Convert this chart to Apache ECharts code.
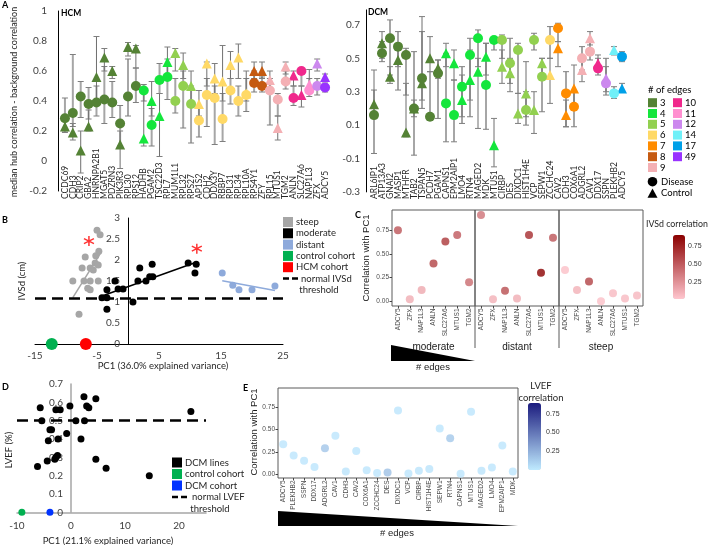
<!DOCTYPE html>
<html>
<head>
<meta charset="utf-8">
<script src="https://cdn.jsdelivr.net/npm/echarts@6/dist/echarts.min.js"></script>
<style>
html, body { margin: 0; padding: 0; background: #fff; }
#chart { width: 710px; height: 545px; }
</style>
</head>
<body>
<div id="chart"></div>
<script>
// colours by number of edges
const edgeColors = {3: '#548235', 4: '#14e63c', 5: '#92d050', 6: '#ffd966', 7: '#ff8c00', 8: '#c55a11', 9: '#f4b0b4',
  10: '#f0288c', 11: '#ff8fd0', 12: '#cc88ee', 14: '#70f0f8', 17: '#00a0e8', 49: '#9933ff'};
const legendCol1 = [3, 4, 5, 6, 7, 8, 9];
const legendCol2 = [10, 11, 12, 14, 17, 49];

// A - HCM
const hcmCats = ['CCDC69','CDH3','CRIP2','GBA2','HNRNPA2B1','MGAT5','PDZRN3','PIK3R3','RPL30','RPS12','HADHB','PGAM2','TSC22D3','RPL7','MUM1L1','RPL32','RPS27','AP1S2','CDH2','DDX3Y','RBBP7','RPL31','RPL34','RPL10A','RPS4Y1','ZFY','RPL15','MTUS1','TGM2','ANLN','SLC27A6','NAP1L3','ZFX','ADCY5'];
const hcmEdges = [3,3,3,3,3,3,3,3,3,3,4,4,4,4,5,5,5,6,6,6,6,6,6,6,8,8,9,9,9,10,10,11,12,49];
const hcmDis = [0.285,0.32,0.43,0.38,0.39,0.41,0.39,0.25,0.43,0.50,0.47,0.24,0.54,0.56,0.40,0.50,0.38,0.27,0.44,0.42,0.28,0.47,0.40,0.44,0.52,0.50,0.47,0.41,0.53,0.42,0.60,0.47,0.50,0.49];
const hcmDisLo = [0.20,0.23,0.29,0.28,0.30,0.25,0.29,0.10,0.30,0.39,0.40,0.10,0.45,0.41,0.32,0.22,0.12,0.16,0.23,0.11,0.13,0.38,0.30,0.33,0.46,0.46,0.24,0.30,0.48,0.37,0.50,0.43,0.44,0.46];
const hcmDisHi = [0.42,0.71,0.53,0.49,0.50,0.63,0.53,0.37,0.68,0.62,0.51,0.35,0.65,0.68,0.55,0.60,0.50,0.36,0.55,0.50,0.45,0.55,0.50,0.55,0.60,0.56,0.55,0.45,0.60,0.50,0.62,0.55,0.55,0.52];
const hcmCtl = [0.23,0.19,0.07,0.23,0.56,0.69,0.60,0.11,0.76,0.75,0.15,0.40,0.30,0.66,0.72,0.64,0.50,0.38,0.65,0.55,0.53,0.64,0.69,0.45,0.60,0.60,0.54,0.22,0.63,0.57,0.44,0.51,0.65,0.56];
const hcmCtlLo = [0.19,0.14,-0.08,0.20,0.40,0.60,0.55,-0.05,0.70,0.62,0.10,0.30,0.03,0.55,0.60,0.55,0.40,0.30,0.50,0.45,0.40,0.55,0.55,0.40,0.55,0.55,0.45,0.14,0.58,0.50,0.36,0.45,0.60,0.53];
const hcmCtlHi = [0.27,0.25,0.20,0.34,0.83,0.75,0.63,0.20,0.79,0.77,0.47,0.53,0.45,0.76,0.75,0.72,0.60,0.47,0.66,0.65,0.77,0.73,0.78,0.60,0.66,0.66,0.60,0.30,0.66,0.60,0.50,0.61,0.68,0.58];
const hcmTicks = [-0.2, 0, 0.2, 0.4, 0.6, 0.8, 1];

// A - DCM
const dcmCats = ['ARL6IP1','ATP13A3','GNAI2','MASP1','MTHFR','TAB2','TSPAN5','PCDH7','PGAM1','CAPNS1','EPM2AIP1','LMO4','RTN4','MAGED2','MDK','MTUS1','CIRBP','DES','DIXDC1','HIST1H4E','VCP','SEPW1','ZCCHC24','CAV2','CDH3','COX6A1','ADGRL2','CAV1','DDX17','SSPN','PLEKHB2','ADCY5'];
const dcmEdges = [3,3,3,3,3,3,3,3,3,4,4,4,4,4,4,4,5,5,5,5,5,5,6,7,7,7,9,9,10,12,14,17];
const dcmDis = [0.16,0.53,0.62,0.57,0.52,0.20,0.38,0.15,0.41,0.23,0.16,0.33,0.52,0.62,0.34,0.61,0.61,0.47,0.55,0.19,0.61,0.39,0.61,0.68,0.29,0.21,0.50,0.54,0.44,0.35,0.29,0.51];
const dcmDisLo = [-0.07,0.48,0.40,0.31,0.28,-0.08,0.20,0.14,0.14,0.00,0.00,0.11,0.15,0.45,0.075,0.55,0.50,0.35,0.29,0.10,0.55,0.18,0.50,0.60,0.09,0.09,0.43,0.49,0.40,0.28,0.26,0.48];
const dcmDisHi = [0.31,0.60,0.73,0.66,0.56,0.54,0.66,0.42,0.49,0.53,0.37,0.45,0.62,0.67,0.59,0.63,0.64,0.62,0.59,0.30,0.65,0.50,0.69,0.71,0.42,0.30,0.57,0.60,0.50,0.50,0.33,0.54];
const dcmCtl = [0.225,0.59,0.39,0.49,0.055,0.20,0.35,0.50,0.44,0.53,0.47,0.25,0.37,0.42,0.51,-0.02,0.45,0.41,0.17,0.29,0.19,0.47,0.40,0.56,0.16,0.32,0.43,0.62,0.47,0.38,0.55,0.32];
const dcmCtlLo = [0.15,0.50,0.35,0.45,0.03,0.15,0.25,0.42,0.38,0.45,0.37,0.15,0.25,0.08,0.40,-0.15,0.35,0.30,0.11,0.15,0.05,0.40,0.23,0.45,0.09,0.20,0.36,0.58,0.42,0.30,0.52,0.30];
const dcmCtlHi = [0.43,0.66,0.45,0.55,0.35,0.25,0.75,0.63,0.49,0.59,0.55,0.40,0.55,0.50,0.59,0.14,0.55,0.50,0.29,0.48,0.30,0.50,0.50,0.60,0.25,0.46,0.48,0.66,0.52,0.45,0.57,0.35];
const dcmTicks = [-0.3, -0.1, 0.1, 0.3, 0.5, 0.7];

// B - IVSd vs PC1
const steepPts = [[-5.0,2.71],[-4.5,2.6],[-4.7,2.21],[-5.2,2.1],[-6.9,2.07],[-5.3,1.93],[-6.1,1.81],[-7.4,1.81],[-4.8,1.88],[-5.6,1.76],[-8.9,1.5],[-7.1,1.5],[-6.1,1.5],[-4.8,1.5],[-6.5,1.33],[-6.1,1.29],[-7.9,0.71]];
const moderatePts = [[-4.2,1.1],[-3.4,1.1],[-3.4,1.29],[-3.4,0.83],[-2.1,1.5],[-1.6,1.31],[-0.8,1.31],[0.8,1.0],[1.9,1.81],[1.6,1.5],[2.9,1.5],[3.5,1.6],[4.0,1.6],[3.9,1.9],[9.7,1.93],[11.0,1.9],[10.8,1.69]];
const distantPts = [[15.2,1.69],[16.9,1.4],[17.9,1.29],[20.0,1.29],[23.7,1.38]];
const hcmControl = [[-12.3, 0]];
const hcmCohort = [[-6.8, 0]];
const starPts = [[-6.3, 2.45], [11.1, 2.27]];
const ivsdThreshold = 1.08;
const bXTicks = [-15, -5, 5, 15, 25];

// D - LVEF vs PC1
const lvefPts = [[-5.7,0.57],[-2.8,0.56],[-2.0,0.56],[-0.2,0.58],[2.4,0.63],[2.9,0.58],[3.3,0.57],[4.6,0.62],[22.2,0.55],[-5.4,0.5],[0.9,0.5],[2.5,0.5],[-3.6,0.45],[-3.9,0.45],[-4.2,0.39],[-2.4,0.4],[-0.8,0.43],[1.85,0.4],[-2.5,0.31],[-2.8,0.3],[-3.0,0.29],[-4.4,0.28],[-6.2,0.25],[4.6,0.29],[6.5,0.24],[14.5,0.2]];
const dcmControl = [[-9.1, 0]];
const dcmCohort = [[-3.9, 0]];
const lvefThreshold = 0.5;
const dXTicks = [-10, 0, 10, 20];

// C - correlation with PC1 per group
const cCats = ['ADCY5','ZFX','NAP1L3','ANLN','SLC27A6','MTUS1','TGM2'];
const cGroups = ['moderate', 'distant', 'steep'];
const cCorr = [
  [0.75, 0.02, 0.12, 0.40, 0.63, 0.70, 0.20],
  [0.91, 0.02, 0.11, 0.03, 0.70, 0.30, 0.67],
  [0.33, 0.12, 0.21, 0.00, 0.085, 0.03, 0.06]
];
const cIvsd = [
  [0.52, 0.12, 0.14, 0.60, 0.65, 0.50, 0.42],
  [0.38, 0.10, 0.55, 0.12, 0.70, 0.90, 0.52],
  [0.03, 0.10, 0.60, 0.03, 0.06, 0.06, 0.07]
];
const corrTicks = [0, 0.25, 0.5, 0.75];

// E - DCM correlation with PC1
const eCats = ['ADCY5','PLEKHB2','SSPN','DDX17','ADGRL2','CAV1','CDH3','CAV2','COX6A1','ZCCHC24','DES','DIXDC1','VCP','CIRBP','HIST1H4E','SEPW1','RTN4','CAPNS1','MTUS1','MAGED2','LMO4','EPM2AIP1','MDK'];
const eCorr = [0.335,0.21,0.15,0.08,0.29,0.43,0.03,0.26,0.045,0.015,0.02,0.71,0.01,0.04,0.06,0.51,0.40,0.005,0.695,0.04,0.075,0.32,0.03];
const eLvef = [0.02,0.02,0.02,0.02,0.16,0.02,0.03,0.02,0.02,0.02,0.18,0.02,0.02,0.03,0.03,0.02,0.15,0.02,0.02,0.03,0.02,0.02,0.02];
const legendTicks = [0.25, 0.5, 0.75];

const F = 'Lato, "Open Sans", sans-serif';
const G = '"Liberation Sans", Arial, sans-serif';

// least squares line over the x range of the points
function fitLine(pts) {
  const n = pts.length;
  const mx = pts.reduce((s, p) => s + p[0], 0) / n;
  const my = pts.reduce((s, p) => s + p[1], 0) / n;
  let sxy = 0, sxx = 0;
  pts.forEach(p => { sxy += (p[0] - mx) * (p[1] - my); sxx += (p[0] - mx) * (p[0] - mx); });
  const b = sxy / sxx;
  const xs = pts.map(p => p[0]);
  const x0 = Math.min(...xs), x1 = Math.max(...xs);
  return [[x0, my + b * (x0 - mx)], [x1, my + b * (x1 - mx)]];
}

function errRender(color, width) {
  return function (params, api) {
    const i = api.value(0);
    const a = api.coord([i, api.value(1)]);
    const b = api.coord([i, api.value(2)]);
    const hw = 3;
    return {
      type: 'group',
      children: [
        {type: 'line', shape: {x1: a[0], y1: a[1], x2: b[0], y2: b[1]}, style: {stroke: color, lineWidth: width}},
        {type: 'line', shape: {x1: a[0] - hw, y1: a[1], x2: a[0] + hw, y2: a[1]}, style: {stroke: '#7f7f7f', lineWidth: 1}},
        {type: 'line', shape: {x1: b[0] - hw, y1: b[1], x2: b[0] + hw, y2: b[1]}, style: {stroke: '#7f7f7f', lineWidth: 1}}
      ]
    };
  };
}

function txt(x, y, s, o) {
  o = o || {};
  return {
    type: 'text', x: x, y: y, rotation: o.rot || 0, silent: true,
    style: {
      text: s, fill: o.color || '#000', fontSize: o.size || 9, fontFamily: o.font || F,
      fontWeight: o.weight || 'normal', align: o.align || 'left', verticalAlign: 'middle',
      textAlign: o.align || 'left', textVerticalAlign: 'middle'
    }
  };
}

const grids = [
  {left: 61, top: 11, width: 268, height: 180},
  {left: 370, top: 9.9, width: 256, height: 182},
  {left: 35, top: 218, width: 248, height: 126},
  {left: 17, top: 384, width: 189, height: 128.3},
  {left: 392, top: 210, width: 83, height: 96},
  {left: 475, top: 210, width: 84, height: 96},
  {left: 559, top: 210, width: 84, height: 96},
  {left: 278, top: 388, width: 240, height: 90}
].map((g, i) => Object.assign(g, {
  containLabel: false, outerBoundsMode: 'none',
  show: i >= 4, borderColor: '#5a5a5a', borderWidth: 1, backgroundColor: 'transparent'
}));

function catAxisA(gi, data, offset) {
  return {
    type: 'category', gridIndex: gi, data: data, boundaryGap: true, offset: offset,
    axisLine: {show: false, onZero: false}, axisTick: {show: false}, splitLine: {show: false},
    axisLabel: {interval: 0, rotate: 90, align: 'left', verticalAlign: 'middle', margin: 0,
      fontSize: 8.5, fontFamily: F, color: '#262626'}
  };
}
function catAxisG(gi, data, name) {
  return {
    type: 'category', gridIndex: gi, data: data, boundaryGap: true,
    name: name || '', nameLocation: 'middle', nameGap: 36,
    nameTextStyle: {fontSize: 10, fontFamily: G, color: '#1a1a1a'},
    axisLine: {show: false, onZero: false},
    axisTick: {show: true, length: 2.5, alignWithLabel: true, lineStyle: {color: '#444'}},
    splitLine: {show: false},
    axisLabel: {interval: 0, rotate: 90, margin: 2.5, fontSize: 6.5, fontFamily: G, color: '#4d4d4d'}
  };
}
function corrYAxis(gi, min, max, showLabels) {
  return {
    type: 'value', gridIndex: gi, min: min, max: max, show: showLabels,
    axisLine: {show: false, onZero: false}, splitLine: {show: false},
    axisTick: {show: true, length: 2.5, customValues: corrTicks, lineStyle: {color: '#444'}},
    axisLabel: {customValues: corrTicks, margin: 3, fontSize: 6.5, fontFamily: G, color: '#4d4d4d',
      formatter: v => v.toFixed(2)}
  };
}

const xAxes = [
  catAxisA(0, hcmCats, 8),
  catAxisA(1, dcmCats, 7),
  {type: 'value', gridIndex: 2, min: -15, max: 25, splitLine: {show: false}, axisTick: {show: false},
    axisLine: {onZero: false, lineStyle: {color: '#000', width: 1}},
    axisLabel: {customValues: bXTicks, margin: 7, fontSize: 10, fontFamily: F, color: '#404040'}},
  {type: 'value', gridIndex: 3, min: -10, max: 25, splitLine: {show: false}, axisTick: {show: false},
    axisLine: {onZero: false, lineStyle: {color: '#a6a6a6', width: 1.5}},
    axisLabel: {customValues: dXTicks, margin: 8, fontSize: 10, fontFamily: F, color: '#404040'}},
  catAxisG(4, cCats, cGroups[0]),
  catAxisG(5, cCats, cGroups[1]),
  catAxisG(6, cCats, cGroups[2]),
  catAxisG(7, eCats, '')
];

const yAxes = [
  {type: 'value', gridIndex: 0, min: -0.2, max: 1, offset: 3, splitLine: {show: false}, axisTick: {show: false},
    axisLine: {show: true, onZero: false, lineStyle: {color: '#000'}},
    axisLabel: {customValues: hcmTicks, margin: 11, fontSize: 10, fontFamily: F, color: '#404040'}},
  {type: 'value', gridIndex: 1, min: -0.3, max: 0.79, offset: 4, splitLine: {show: false}, axisTick: {show: false},
    axisLine: {show: true, onZero: false, lineStyle: {color: '#000'}},
    axisLabel: {customValues: dcmTicks, margin: 6, fontSize: 10, fontFamily: F, color: '#404040'}},
  {type: 'value', gridIndex: 2, min: 0, max: 3, interval: 0.5, offset: -93, splitLine: {show: false}, axisTick: {show: false},
    axisLine: {show: true, onZero: false, lineStyle: {color: '#000'}},
    axisLabel: {margin: 8, fontSize: 10, fontFamily: F, color: '#404040'}},
  {type: 'value', gridIndex: 3, min: 0, max: 0.7, interval: 0.1, offset: -54, splitLine: {show: false}, axisTick: {show: false},
    axisLine: {show: true, onZero: false, lineStyle: {color: '#a6a6a6', width: 1.5}},
    axisLabel: {margin: 8, fontSize: 10, fontFamily: F, color: '#404040'}},
  corrYAxis(4, -0.05, 0.964, true),
  corrYAxis(5, -0.05, 0.964, false),
  corrYAxis(6, -0.05, 0.964, false),
  corrYAxis(7, -0.041, 0.96, true)
];

const series = [];
function panelA(gi, cats, edges, dis, disLo, disHi, ctl, ctlLo, ctlHi) {
  series.push({type: 'custom', xAxisIndex: gi, yAxisIndex: gi, silent: true, encode: {x: 0, y: [1, 2]},
    renderItem: errRender('#a6a6a6', 2), data: cats.map((c, i) => [i, disLo[i], disHi[i]])});
  series.push({type: 'custom', xAxisIndex: gi, yAxisIndex: gi, silent: true, encode: {x: 0, y: [1, 2]},
    renderItem: errRender('#6f6f6f', 1), data: cats.map((c, i) => [i, ctlLo[i], ctlHi[i]])});
  series.push({type: 'scatter', xAxisIndex: gi, yAxisIndex: gi, symbol: 'triangle', symbolSize: 10,
    itemStyle: {color: p => edgeColors[edges[p.dataIndex]], opacity: 1},
    data: cats.map((c, i) => [i, ctl[i]])});
  series.push({type: 'scatter', xAxisIndex: gi, yAxisIndex: gi, symbol: 'circle', symbolSize: 10,
    itemStyle: {color: p => edgeColors[edges[p.dataIndex]], opacity: 1},
    data: cats.map((c, i) => [i, dis[i]])});
}
panelA(0, hcmCats, hcmEdges, hcmDis, hcmDisLo, hcmDisHi, hcmCtl, hcmCtlLo, hcmCtlHi);
panelA(1, dcmCats, dcmEdges, dcmDis, dcmDisLo, dcmDisHi, dcmCtl, dcmCtlLo, dcmCtlHi);

function dashLine(v) {
  return {silent: true, symbol: 'none', label: {show: false},
    lineStyle: {color: '#000', type: [11, 6], width: 2.5}, data: [{yAxis: v}]};
}
const sc = (gi, data, color, size, extra) => Object.assign({type: 'scatter', xAxisIndex: gi, yAxisIndex: gi,
  symbolSize: size, itemStyle: {color: color, opacity: 1}, data: data}, extra || {});
const ln = (gi, data, color) => ({type: 'line', xAxisIndex: gi, yAxisIndex: gi, data: data, showSymbol: false,
  symbol: 'none', silent: true, lineStyle: {color: color, width: 1.5}});

// B
series.push(ln(2, fitLine(steepPts), '#a6a6a6'));
series.push(ln(2, fitLine(moderatePts), '#000'));
series.push(ln(2, fitLine(distantPts), '#8eaadb'));
series.push(sc(2, steepPts, '#a6a6a6', 7));
series.push(sc(2, moderatePts, '#000', 7, {markLine: dashLine(ivsdThreshold)}));
series.push(sc(2, distantPts, '#8eaadb', 7));
series.push(sc(2, hcmControl, '#00b050', 12));
series.push(sc(2, hcmCohort, '#ff0000', 12));
series.push(sc(2, starPts, 'transparent', 10, {
  symbol: 'path://M0,-5L0,5M-4.33,-2.5L4.33,2.5M-4.33,2.5L4.33,-2.5',
  itemStyle: {color: 'transparent', borderColor: '#ff0000', borderWidth: 1.5}}));

// D
series.push(sc(3, lvefPts, '#000', 7, {markLine: dashLine(lvefThreshold)}));
series.push(sc(3, dcmControl, '#00b050', 7));
series.push(sc(3, dcmCohort, '#0033ff', 7));

// C
const cSeriesIdx = [];
cGroups.forEach((g, k) => {
  cSeriesIdx.push(series.length);
  series.push({type: 'scatter', xAxisIndex: 4 + k, yAxisIndex: 4 + k, symbolSize: 8,
    data: cCats.map((c, i) => [i, cCorr[k][i], cIvsd[k][i]])});
});
// E
const eSeriesIdx = series.length;
series.push({type: 'scatter', xAxisIndex: 7, yAxisIndex: 7, symbolSize: 8,
  data: eCats.map((c, i) => [i, eCorr[i], eLvef[i]])});

// legends and annotation graphics
const gr = [];
gr.push(txt(2, 5, 'A', {weight: 'bold', size: 9}));
gr.push(txt(2, 220, 'B', {weight: 'bold', size: 9}));
gr.push(txt(355, 215, 'C', {weight: 'bold', size: 9}));
gr.push(txt(2, 387, 'D', {weight: 'bold', size: 9}));
gr.push(txt(243, 388, 'E', {weight: 'bold', size: 9}));
gr.push(txt(61, 13, 'HCM', {weight: 'bold', size: 8.5}));
gr.push(txt(368, 12, 'DCM', {weight: 'bold', size: 8.5}));
gr.push(txt(14, 102, 'median hub correlation - background correlation', {rot: Math.PI / 2, align: 'center', size: 9, color: '#262626'}));

// A legend
gr.push(txt(648, 90, '# of edges', {size: 9.5}));
legendCol1.forEach((e, k) => {
  const y = 102.7 + k * 10.8;
  gr.push({type: 'rect', shape: {x: 648, y: y - 4.5, width: 9, height: 9}, style: {fill: edgeColors[e]}, silent: true});
  gr.push(txt(660, y, String(e), {size: 9.5}));
});
legendCol2.forEach((e, k) => {
  const y = 102.7 + k * 10.8;
  gr.push({type: 'rect', shape: {x: 673, y: y - 4.5, width: 9, height: 9}, style: {fill: edgeColors[e]}, silent: true});
  gr.push(txt(685, y, String(e), {size: 9.5}));
});
gr.push({type: 'circle', shape: {cx: 652.5, cy: 181.7, r: 4.8}, style: {fill: '#000'}, silent: true});
gr.push(txt(661, 181.7, 'Disease', {size: 9.5}));
gr.push({type: 'polygon', shape: {points: [[652.5, 188.5], [657.5, 197.8], [647.5, 197.8]]}, style: {fill: '#000'}, silent: true});
gr.push(txt(661, 193.3, 'Control', {size: 9.5}));

// B legend
[['steep', '#a6a6a6'], ['moderate', '#000'], ['distant', '#8eaadb'], ['control cohort', '#00b050'], ['HCM cohort', '#ff0000']].forEach((it, k) => {
  const y = 222 + k * 11.3;
  gr.push({type: 'rect', shape: {x: 283, y: y - 5, width: 10, height: 10}, style: {fill: it[1]}, silent: true});
  gr.push(txt(296, y, it[0], {size: 9.5, color: '#262626'}));
});
gr.push({type: 'line', shape: {x1: 283, y1: 278.5, x2: 299, y2: 278.5}, style: {stroke: '#000', lineWidth: 2.5, lineDash: [6, 3]}, silent: true});
gr.push(txt(301, 278.5, 'normal IVSd', {size: 9.5, color: '#262626'}));
gr.push(txt(319, 289.5, 'threshold', {size: 9.5, align: 'center', color: '#262626'}));
gr.push(txt(22, 281, 'IVSd (cm)', {rot: Math.PI / 2, align: 'center', size: 9.5, color: '#262626'}));
gr.push(txt(163, 366, 'PC1 (36.0% explained variance)', {align: 'center', size: 9.5, color: '#262626'}));

// D legend
[['DCM lines', '#000'], ['control cohort', '#00b050'], ['DCM cohort', '#0033ff']].forEach((it, k) => {
  const y = 462.5 + k * 11.5;
  gr.push({type: 'rect', shape: {x: 172, y: y - 5, width: 10, height: 10}, style: {fill: it[1]}, silent: true});
  gr.push(txt(185, y, it[0], {size: 9.5, color: '#262626'}));
});
gr.push({type: 'line', shape: {x1: 172, y1: 497, x2: 190, y2: 497}, style: {stroke: '#000', lineWidth: 2.5, lineDash: [6, 3]}, silent: true});
gr.push(txt(192, 497, 'normal LVEF', {size: 9.5, color: '#262626'}));
gr.push(txt(210, 508.5, 'threshold', {size: 9.5, align: 'center', color: '#262626'}));
gr.push(txt(9, 450, 'LVEF (%)', {rot: Math.PI / 2, align: 'center', size: 9.5, color: '#262626'}));
gr.push(txt(108, 540.5, 'PC1 (21.1% explained variance)', {align: 'center', size: 9.5, color: '#262626'}));

// C extras
gr.push(txt(366, 258, 'Correlation with PC1', {rot: Math.PI / 2, align: 'center', size: 9.5, font: G, color: '#1a1a1a'}));
gr.push({type: 'line', shape: {x1: 475, y1: 306, x2: 475, y2: 348}, style: {stroke: '#5a5a5a', lineWidth: 1}, silent: true});
gr.push({type: 'line', shape: {x1: 559, y1: 306, x2: 559, y2: 348}, style: {stroke: '#5a5a5a', lineWidth: 1}, silent: true});
gr.push({type: 'polygon', shape: {points: [[391, 345], [475, 361], [391, 361]]}, style: {fill: '#000'}, silent: true});
gr.push(txt(433, 367, '# edges', {align: 'center', size: 9.5, font: G, color: '#1a1a1a'}));
gr.push(txt(646, 224, 'IVSd correlation', {size: 8.8, color: '#262626'}));
legendTicks.forEach(v => gr.push(txt(688, 299.5 - v / 0.9 * 64.5, v.toFixed(2), {size: 7, font: G, color: '#333'})));

// E extras
gr.push(txt(254, 432, 'Correlation with PC1', {rot: Math.PI / 2, align: 'center', size: 9.5, font: G, color: '#1a1a1a'}));
gr.push({type: 'polygon', shape: {points: [[278, 511], [518, 526], [278, 526]]}, style: {fill: '#000'}, silent: true});
gr.push(txt(397, 533, '# edges', {align: 'center', size: 9.5, font: G, color: '#1a1a1a'}));
gr.push(txt(541, 386, 'LVEF', {align: 'center', size: 9.5, color: '#262626'}));
gr.push(txt(541, 398, 'correlation', {align: 'center', size: 9.5, color: '#262626'}));
legendTicks.forEach(v => gr.push(txt(546, 469.5 - v / 0.9 * 66.8, v.toFixed(2), {size: 7, font: G, color: '#333'})));

const chart = echarts.init(document.getElementById('chart'));
chart.setOption({
  animation: false,
  backgroundColor: '#fff',
  textStyle: {fontFamily: F},
  grid: grids,
  xAxis: xAxes,
  yAxis: yAxes,
  visualMap: [
    {type: 'continuous', seriesIndex: cSeriesIdx, dimension: 2, min: 0, max: 0.9, calculable: false,
      inRange: {color: ['#ffc6ce', '#8b0000']}, left: 673, top: 235, itemWidth: 12, itemHeight: 64, padding: 0, text: null},
    {type: 'continuous', seriesIndex: eSeriesIdx, dimension: 2, min: 0, max: 0.9, calculable: false,
      inRange: {color: ['#bfeaff', '#1b1b7e']}, left: 528, top: 403, itemWidth: 13, itemHeight: 67, padding: 0, text: null}
  ],
  series: series,
  graphic: {elements: gr}
});
</script>
</body>
</html>
